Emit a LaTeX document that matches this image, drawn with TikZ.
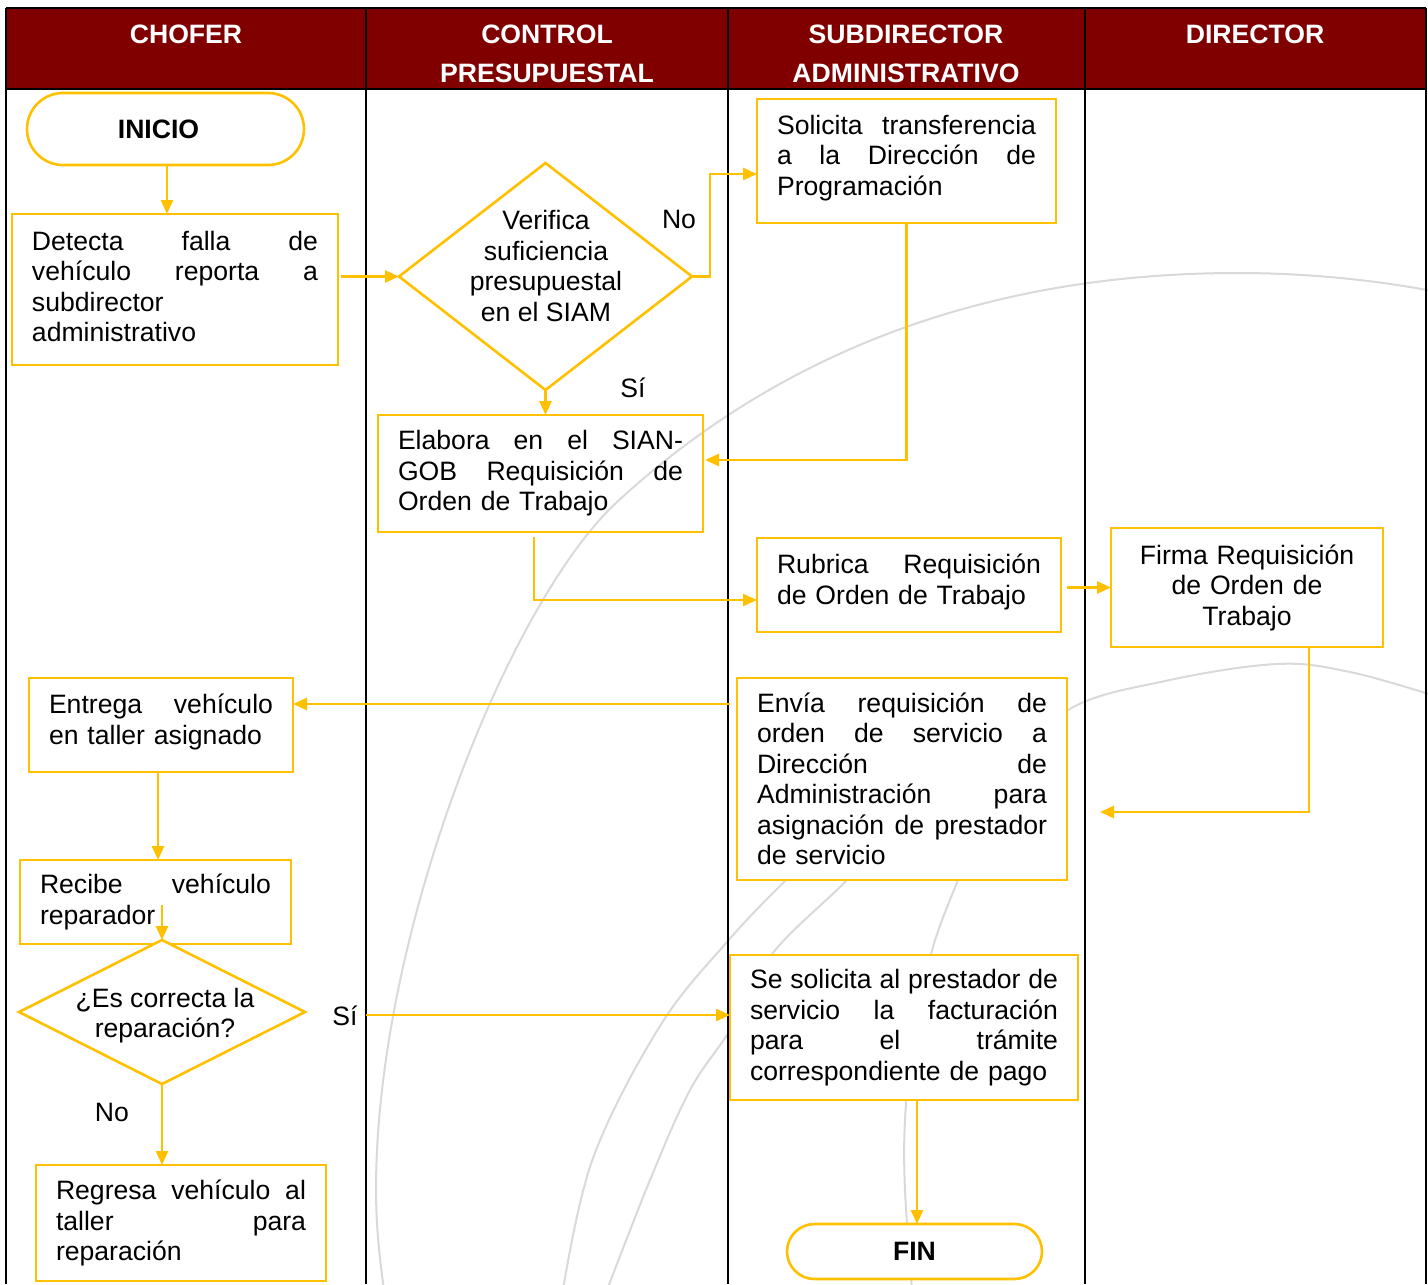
\documentclass[tikz,border=0pt]{standalone}
\usepackage{fontspec}
\setmainfont{Liberation Sans}
\usetikzlibrary{shapes.geometric,arrows.meta}
\definecolor{gold}{HTML}{FFC000}
\definecolor{hdr}{HTML}{800000}
\definecolor{wm}{HTML}{D9D9D9}
\begin{document}
\begin{tikzpicture}[x=0.5pt,y=-0.5pt,
 every node/.style={font=\fontsize{13.3}{15.25}\selectfont, inner sep=0pt, outer sep=0pt},
 box/.style={draw=gold, line width=0.8pt, fill=white, align=left},
 up/.style={execute at end node={\endgraf\kern3pt}},
 term/.style={draw=gold, line width=1.3pt, fill=white, font=\bfseries\fontsize{13.3}{15.25}\selectfont},
 dia/.style={diamond, draw=gold, line width=1.3pt, fill=white},
 arr/.style={draw=gold, line width=1.3pt, -{Triangle[length=7pt,width=6pt]}},
 lane/.style={line width=1.2pt, black},
 hd/.style={text=white, font=\bfseries\fontsize{13.3}{19.5}\selectfont, align=center, anchor=north},
 wmk/.style={draw=wm, line width=1pt}
]
\useasboundingbox (0,0) rectangle (1428,1284);
% watermark arcs
\draw[wmk] (1432,291) .. controls (1370,279) and (1300,273) .. (1238,273)
  .. controls (960,273) and (760,370) .. (617,502)
  .. controls (510,601) and (377,930) .. (376,1187)
  .. controls (376,1230) and (380,1260) .. (384,1290);
\draw[wmk] plot[smooth, tension=0.6] coordinates {(1432,695) (1350,672) (1277,664) (1165,681) (1068,710) (1000,780) (958,880) (931,954) (912,1050) (905,1120) (905,1190) (912,1290)};
\draw[wmk] plot[smooth, tension=0.6] coordinates {(840,830) (786,880) (727,942) (660,1026) (593,1158) (563,1290)};
\draw[wmk] plot[smooth, tension=0.6] coordinates {(890,830) (847,880) (772,954) (730,1030) (690,1090) (650,1180) (607,1290)};
% header and lanes
\fill[hdr] (6,8) rectangle (1426,89);
\draw[lane] (6,8) -- (1426,8);
\draw[lane] (6,89) -- (1426,89);
\foreach \xx in {6,366,728,1085,1426} \draw[lane] (\xx,8) -- (\xx,1284);
\node[hd] (h1) at (186,24.5) {CHOFER};
\node[hd] (h2) at (547,24.5) {CONTROL\\PRESUPUESTAL};
\node[hd] (h3) at (906,24.5) {SUBDIRECTOR\\ADMINISTRATIVO};
\node[hd] (h4) at (1255,24.5) {DIRECTOR};
% nodes
\node[term, rounded corners=18pt, minimum width=138.5pt, minimum height=36pt] (inicio) at (165.5,129) {\hspace*{-7pt}INICIO};
\node[box, up, minimum width=163pt, minimum height=75.5pt, text width=143pt] (det) at (175,289.5)
 {Detecta\hfill falla\hfill de\\vehículo\hfill reporta\hfill a\\subdirector\\administrativo};
\node[dia, minimum width=146.5pt, minimum height=113.5pt] (d1) at (545.5,276.5) {};
\node[align=center] (t1) at (546,266) {Verifica\\suficiencia\\presupuestal\\en el SIAM};
\node[box, up, minimum width=149.5pt, minimum height=62pt, text width=129.5pt] (sol) at (906.5,161)
 {Solicita\hfill transferencia\\a\hfill la\hfill Dirección\hfill de\\Programación};
\node[box, fill=none, minimum width=162.5pt, minimum height=58.5pt, text width=142.5pt] (elab) at (540.5,473.5)
 {Elabora\hfill en\hfill el\hfill SIAN-\\GOB\hfill Requisición\hfill de\\Orden de Trabajo};
\node[box, up, minimum width=152pt, minimum height=47pt, text width=132pt] (rub) at (909,585)
 {Rubrica\hfill Requisición\\de Orden de Trabajo};
\node[box, align=center, minimum width=136pt, minimum height=59.5pt, text width=116pt] (firma) at (1247,587.5)
 {Firma Requisición\\de Orden de\\Trabajo};
\node[box, minimum width=165pt, minimum height=101pt, text width=145pt] (env) at (902,779)
 {Envía\hfill requisición\hfill de\\orden\hfill de\hfill servicio\hfill a\\Dirección\hfill de\\Administración\hfill para\\asignación\hfill de\hfill prestador\\de servicio};
\node[box, up, minimum width=132pt, minimum height=47pt, text width=112pt] (ent) at (161,725)
 {Entrega\hfill vehículo\\en taller asignado};
\node[box, minimum width=135.5pt, minimum height=42pt, text width=115.5pt] (rec) at (155.5,902)
 {Recibe\hfill vehículo\\reparador};
\node[dia, minimum width=143pt, minimum height=72pt] (d2) at (162,1012) {};
\node[align=center] (t2) at (165,1015.5) {¿Es correcta la\\reparación?};
\node[box, minimum width=145pt, minimum height=58pt, text width=125pt] (reg) at (181,1223)
 {Regresa\hfill vehículo\hfill al\\taller\hfill para\\reparación};
\node[box, minimum width=174pt, minimum height=72.5pt, text width=154pt] (ses) at (904,1027.5)
 {Se\hfill solicita\hfill al\hfill prestador\hfill de\\servicio\hfill la\hfill facturación\\para\hfill el\hfill trámite\\correspondiente de pago};
\node[term, rounded corners=13.75pt, minimum width=127.5pt, minimum height=27.5pt] (fin) at (914.5,1251.5) {FIN};
% labels
\node (no1) at (679,219) {No};
\node (si1) at (633,388) {Sí};
\node (si2) at (345,1016) {Sí};
\node (no2) at (112,1112) {No};
% connectors
\coordinate (c0) at (167,165);
\coordinate (c1) at (710,174);
\coordinate (c2) at (705,460);
\coordinate (c3) at (534,537);
\coordinate (c4) at (757,600);
\coordinate (c5) at (1309,647);
\coordinate (c6) at (1100,812);
\coordinate (c7) at (730,704);
\coordinate (c8) at (162,905);
\coordinate (c9) at (366,1015);
\coordinate (c10) at (917,1100);
\coordinate (c11) at (158,772);
\draw[arr] (c0) -- (c0 |- det.north);
\draw[arr] ([xshift=1.5pt]det.east |- d1.west) -- (d1.west);
\draw[arr] (d1.east) -| (c1) -- (c1 -| sol.west);
\draw[arr] (d1.south) -- (d1.south |- elab.north);
\draw[arr] (sol.south) |- (c2);
\draw[arr] (c3) |- (c4);
\draw[arr] ([xshift=3pt]rub.east |- firma.west) -- (firma.west);
\draw[arr] (c5) |- (c6);
\draw[arr] (c7) -- (c7 -| ent.east);
\draw[arr] (c11) -- (c11 |- rec.north);
\draw[arr] (c8) -- (d2.north);
\draw[arr] (c9) -- (c9 -| ses.west);
\draw[arr] (d2.south) -- (d2.south |- reg.north);
\draw[arr] (c10) -- (c10 |- fin.north);
\end{tikzpicture}
\end{document}
